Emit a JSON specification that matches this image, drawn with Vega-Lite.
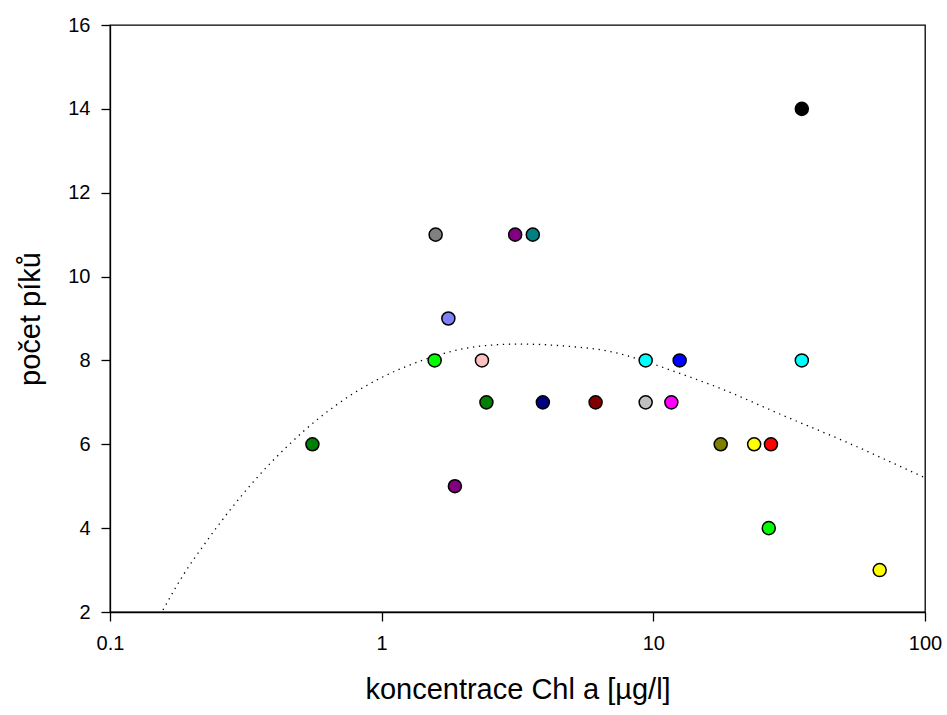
{
  "$schema": "https://vega.github.io/schema/vega-lite/v6.json",
  "width": 815,
  "height": 587,
  "autosize": {"type": "none"},
  "padding": {"left": 110, "top": 25, "right": 22, "bottom": 103},
  "background": "white",
  "config": {
    "view": {"stroke": "black", "strokeWidth": 1.3},
    "font": "Liberation Sans",
    "axis": {
      "domainColor": "black", "tickColor": "black", "labelColor": "black", "titleColor": "black",
      "grid": false, "tickSize": 9, "labelFontSize": 20, "titleFontSize": 29, "titleFontWeight": "normal",
      "labelFont": "Liberation Sans", "titleFont": "Liberation Sans", "domainWidth": 1.3, "tickWidth": 1.3
    }
  },
  "datasets": {
    "pts": [
      {"sample": "s01", "chl": 0.556, "peaks": 6},
      {"sample": "s02", "chl": 1.567, "peaks": 8},
      {"sample": "s03", "chl": 1.58, "peaks": 11},
      {"sample": "s04", "chl": 1.76, "peaks": 9},
      {"sample": "s05", "chl": 1.86, "peaks": 5},
      {"sample": "s06", "chl": 2.34, "peaks": 8},
      {"sample": "s07", "chl": 2.43, "peaks": 7},
      {"sample": "s08", "chl": 3.1, "peaks": 11},
      {"sample": "s09", "chl": 3.6, "peaks": 11},
      {"sample": "s10", "chl": 3.92, "peaks": 7},
      {"sample": "s11", "chl": 6.13, "peaks": 7},
      {"sample": "s12", "chl": 9.37, "peaks": 7},
      {"sample": "s13", "chl": 9.37, "peaks": 8},
      {"sample": "s14", "chl": 11.65, "peaks": 7},
      {"sample": "s15", "chl": 12.5, "peaks": 8},
      {"sample": "s16", "chl": 17.7, "peaks": 6},
      {"sample": "s17", "chl": 23.5, "peaks": 6},
      {"sample": "s18", "chl": 27.1, "peaks": 6},
      {"sample": "s19", "chl": 26.6, "peaks": 4},
      {"sample": "s20", "chl": 35.2, "peaks": 14},
      {"sample": "s21", "chl": 35.2, "peaks": 8},
      {"sample": "s22", "chl": 68.1, "peaks": 3}
    ],
    "fit": [
      {"chl": 0.1567, "peaks": 2.05},
      {"chl": 0.1858, "peaks": 2.876},
      {"chl": 0.2244, "peaks": 3.647},
      {"chl": 0.2748, "peaks": 4.41},
      {"chl": 0.3436, "peaks": 5.167},
      {"chl": 0.4457, "peaks": 5.93},
      {"chl": 0.5861, "peaks": 6.616},
      {"chl": 0.7727, "peaks": 7.18},
      {"chl": 1.012, "peaks": 7.61},
      {"chl": 1.419, "peaks": 8.007},
      {"chl": 2.296, "peaks": 8.34},
      {"chl": 3.221, "peaks": 8.39},
      {"chl": 4.786, "peaks": 8.34},
      {"chl": 7.096, "peaks": 8.2},
      {"chl": 9.419, "peaks": 7.97},
      {"chl": 12.5, "peaks": 7.69},
      {"chl": 17.06, "peaks": 7.37},
      {"chl": 29.99, "peaks": 6.69},
      {"chl": 52.72, "peaks": 6.02},
      {"chl": 95.5, "peaks": 5.26},
      {"chl": 100, "peaks": 5.2}
    ]
  },
  "layer": [
    {
      "data": {"name": "fit"},
      "mark": {"type": "line", "color": "black", "strokeWidth": 1.3, "strokeDash": [1.3, 4.7], "interpolate": "monotone", "clip": true},
      "encoding": {
        "x": {"field": "chl", "type": "quantitative",
          "scale": {"type": "log", "domain": [0.1, 100]},
          "axis": {"values": [0.1, 1, 10, 100], "labelExpr": "datum.value", "labelPadding": 12, "title": "koncentrace Chl a [µg/l]", "titlePadding": 22, "labelFlush": false}},
        "y": {"field": "peaks", "type": "quantitative",
          "scale": {"domain": [2, 16], "zero": false},
          "axis": {"values": [2, 4, 6, 8, 10, 12, 14, 16], "labelPadding": 11, "title": "počet píků", "titlePadding": 22}}
      }
    },
    {
      "data": {"name": "pts"},
      "mark": {"type": "point", "shape": "circle", "filled": true, "size": 170, "stroke": "black", "strokeWidth": 1.5, "opacity": 1},
      "encoding": {
        "x": {"field": "chl", "type": "quantitative"},
        "y": {"field": "peaks", "type": "quantitative"},
        "fill": {"field": "sample", "type": "nominal", "legend": null,
          "scale": {"domain": ["s01","s02","s03","s04","s05","s06","s07","s08","s09","s10","s11","s12","s13","s14","s15","s16","s17","s18","s19","s20","s21","s22"],
            "range": ["#008000","#00FF00","#808080","#8080FF","#800080","#FFC0C0","#008000","#800080","#008080","#000080","#800000","#C0C0C0","#00FFFF","#FF00FF","#0000FF","#808000","#FFFF00","#FF0000","#00FF00","#000000","#00FFFF","#FFFF00"]}}
      }
    }
  ]
}
